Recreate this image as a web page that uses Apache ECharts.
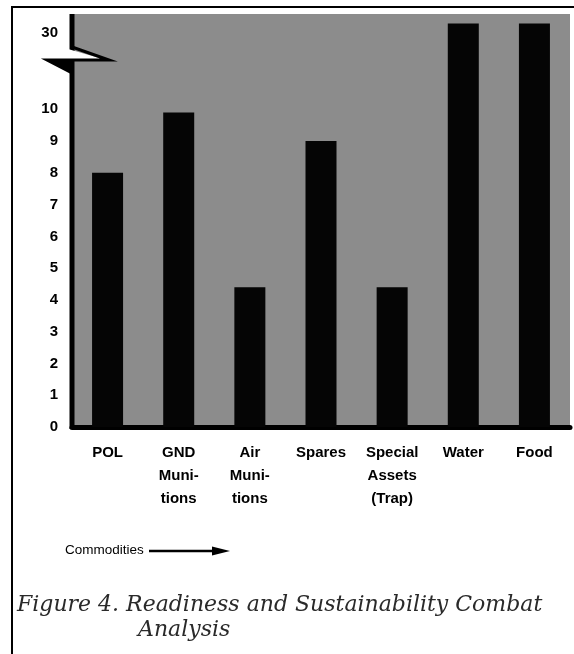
<!DOCTYPE html>
<html>
<head>
<meta charset="utf-8">
<script src="https://cdn.jsdelivr.net/npm/echarts@6/dist/echarts.min.js"></script>
<style>
html,body{margin:0;padding:0;background:#fff;}
#chart{width:574px;height:654px;}
</style>
</head>
<body>
<div id="chart"></div>
<script>
// ---- data ----
const categories = ['POL', 'GND\nMuni-\ntions', 'Air\nMuni-\ntions', 'Spares', 'Special\nAssets\n(Trap)', 'Water', 'Food'];
const values = [8, 9.9, 4.4, 9, 4.4, 30.4, 30.4];
const yTickLabels = [0, 1, 2, 3, 4, 5, 6, 7, 8, 9, 10, 30];
const upperTick = 30;
const breakStart = 11.1;
const breakEnd = 30;
const breakGap = 1.2;
const yMax = 30.7;
const xAxisTitle = 'Commodities';
const captionLine1 = 'Figure 4. Readiness and Sustainability Combat';
const captionLine2 = 'Analysis';

const GRID = {left: 72, right: 4, top: 14, bottom: 227};
const W = 574, H = 654;
const labelFont = 'bold 15px "Liberation Sans"';

const chart = echarts.init(document.getElementById('chart'), null, {renderer: 'canvas'});
const captionStyle = {fill: '#2a2a2a', font: 'italic 22px "DejaVu Serif"', verticalAlign: 'middle'};

chart.setOption({
  backgroundColor: '#ffffff',
  animation: false,
  grid: Object.assign({show: true, backgroundColor: '#8c8c8c', borderWidth: 0}, GRID),
  xAxis: {
    type: 'category',
    data: categories,
    axisLine: {show: true, lineStyle: {color: '#000', width: 5}},
    axisTick: {show: false},
    splitLine: {show: false},
    axisLabel: {
      interval: 0, color: '#000', fontFamily: 'Liberation Sans',
      fontSize: 15, fontWeight: 'bold', lineHeight: 23, margin: 14
    }
  },
  yAxis: {
    type: 'value',
    min: 0, max: yMax, interval: 1,
    breaks: [{start: breakStart, end: breakEnd, gap: breakGap}],
    breakArea: {show: false},
    axisLine: {show: false},
    axisTick: {show: false},
    splitLine: {show: false},
    axisLabel: {
      color: '#000', fontFamily: 'Liberation Sans', fontSize: 15, fontWeight: 'bold',
      margin: 14, padding: [0, 0, 6, 0],
      showMinLabel: true, showMaxLabel: false,
      formatter: function (v) {
        const r = Math.round(v);
        if (Math.abs(v - r) < 1e-6 && r !== upperTick && yTickLabels.indexOf(r) >= 0) return String(r);
        return '';
      }
    }
  },
  series: [{
    type: 'bar',
    data: values,
    barWidth: 31,
    itemStyle: {color: '#050505'}
  }]
});

// label for the tick above the axis break, placed through the axis scale
const yUpper = chart.convertToPixel({yAxisIndex: 0}, upperTick);
const axisX = GRID.left;
const axisBottom = H - GRID.bottom;

chart.setOption({
  graphic: [
    // frame (scan border: top and left)
    {type: 'line', shape: {x1: 12, y1: 7, x2: 574, y2: 7}, style: {stroke: '#000', lineWidth: 2}, z: 100},
    {type: 'line', shape: {x1: 12, y1: 6, x2: 12, y2: 654}, style: {stroke: '#000', lineWidth: 2}, z: 100},
    // y axis line
    {type: 'line', shape: {x1: axisX, y1: GRID.top, x2: axisX, y2: axisBottom + 2}, style: {stroke: '#000', lineWidth: 5}, z: 99},
    // axis break mark
    {type: 'polygon', shape: {points: [[68, 49], [106, 60], [68, 60]]}, style: {fill: '#fff'}, z: 100},
    {type: 'polygon', shape: {points: [[47, 60], [73, 60], [73, 73]]}, style: {fill: '#000'}, z: 101},
    {type: 'polyline', shape: {points: [[72, 47], [109, 60], [47, 60], [72, 73]]}, style: {stroke: '#000', lineWidth: 3, fill: null}, z: 101},
    // tick label above break
    {type: 'text', x: axisX - 14, y: yUpper - 3, style: {text: String(upperTick), fill: '#000', font: labelFont, align: 'right', verticalAlign: 'middle'}, z: 100},
    // axis title with arrow
    {type: 'text', left: 65, top: 543, style: {text: xAxisTitle, fill: '#000', font: '13.5px "Liberation Sans"'}, z: 100},
    {type: 'line', shape: {x1: 149, y1: 551, x2: 218, y2: 551}, style: {stroke: '#000', lineWidth: 2.5}, z: 100},
    {type: 'polygon', shape: {points: [[212, 546.5], [230, 551], [212, 555.5]]}, style: {fill: '#000'}, z: 100},
    // caption
    {type: 'text', x: 17, y: 605, style: Object.assign({text: captionLine1}, captionStyle), z: 100},
    {type: 'text', x: 138, y: 630, style: Object.assign({text: captionLine2}, captionStyle), z: 100}
  ]
});
</script>
</body>
</html>
